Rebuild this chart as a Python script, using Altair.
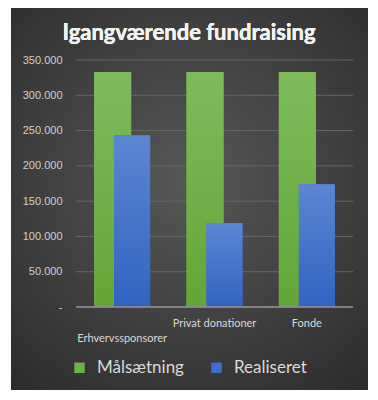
import altair as alt
import pandas as pd

categories = ["Erhvervssponsorer", "Privat donationer", "Fonde"]
goal = [333000, 333000, 333000]
realized = [243500, 119000, 174000]
series = ["Målsætning", "Realiseret"]
y_ticks = [0, 50000, 100000, 150000, 200000, 250000, 300000, 350000]

df_goal = pd.DataFrame({"cat": categories, "value": goal, "series": series[0]})
df_real = pd.DataFrame({"cat": categories, "value": realized, "series": series[1]})
df_ticks = pd.DataFrame({"value": y_ticks[1:]})

W, H = 277, 247
PL, PT = 76, 60

x_enc = alt.X(
    "cat:N", sort=categories, title=None,
    scale=alt.Scale(paddingInner=0, paddingOuter=0),
    axis=alt.Axis(
        labelAngle=0, labelColor="#d9d9d9", labelFontSize=11, labelFont="Lato",
        domain=False, ticks=False, grid=False, labelPadding=10, labelLineHeight=15,
        zindex=1,
        labelExpr="datum.value == 'Erhvervssponsorer' ? ['', datum.value] : datum.value",
    ),
)
y_scale = alt.Scale(domain=[0, 350000], nice=False)
y_enc = alt.Y(
    "value:Q", title=None, scale=y_scale,
    axis=alt.Axis(
        values=y_ticks, labelColor="#d0d0d0", labelFontSize=11, labelFont="Liberation Sans",
        domain=False, ticks=False, grid=False, labelPadding=14, zindex=1,
        labelExpr="datum.value == 0 ? '-' : replace(format(datum.value, ',.0f'), regexp(',', 'g'), '.')",
    ),
)
color_enc = alt.Color(
    "series:N",
    scale=alt.Scale(domain=series, range=["#6db046", "#3f6fcc"]),
    legend=alt.Legend(
        title=None, orient="none", direction="horizontal", legendX=-5, legendY=299,
        symbolType="square", symbolSize=110, symbolStrokeWidth=0,
        labelFontSize=17, labelColor="#d9d9d9", labelFont="Lato", columnPadding=24,
        labelOffset=9, zindex=1,
    ),
)

grad_green = alt.LinearGradient(
    gradient="linear", x1=0, y1=0, x2=0, y2=1,
    stops=[alt.GradientStop(offset=0, color="#7fbb5c"), alt.GradientStop(offset=1, color="#63a636")],
)
grad_blue = alt.LinearGradient(
    gradient="linear", x1=0, y1=0, x2=0, y2=1,
    stops=[alt.GradientStop(offset=0, color="#5d86d2"), alt.GradientStop(offset=1, color="#3163c1")],
)
bg_grad = alt.RadialGradient(
    gradient="radial", x1=0.5, y1=0.45, x2=0.5, y2=0.45, r1=0, r2=0.75,
    stops=[alt.GradientStop(offset=0, color="#575757"), alt.GradientStop(offset=1, color="#2a2a2a")],
)

background = alt.Chart(df_goal).mark_rect(fill=bg_grad).encode(
    x=alt.value(11 - PL), x2=alt.value(368 - PL),
    y=alt.value(8 - PT), y2=alt.value(390 - PT),
)

grid = alt.Chart(df_ticks).mark_rule(color="#676767", strokeWidth=1).encode(
    y=y_enc, x=alt.value(0), x2=alt.value(W)
)

base_line = alt.Chart(df_goal).mark_rule(color="#8a8a8a", strokeWidth=1).encode(
    x=alt.value(0), x2=alt.value(W), y=alt.value(H)
)

green = alt.Chart(df_goal).mark_bar(width=37, xOffset=-9.5).encode(x=x_enc, y=y_enc, color=color_enc)
green_g = alt.Chart(df_goal).mark_bar(width=37, xOffset=-9.5, fill=grad_green).encode(x=x_enc, y=y_enc)
blue = alt.Chart(df_real).mark_bar(width=36, xOffset=10).encode(x=x_enc, y=y_enc, color=color_enc)
blue_g = alt.Chart(df_real).mark_bar(width=36, xOffset=10, fill=grad_blue).encode(x=x_enc, y=y_enc)

title_text = alt.Chart(df_goal).mark_text(
    text="Igangværende fundraising", font="Lato", fontSize=22, fontWeight="bold",
    color="#f2f2f2", align="center", baseline="alphabetic",
).encode(x=alt.value(189 - PL), y=alt.value(40 - PT))

chart = alt.layer(background, grid, green, green_g, blue, blue_g, base_line, title_text).properties(
    width=W, height=H,
    padding={"left": PL, "top": PT, "right": 378 - PL - W, "bottom": 400 - PT - H},
    autosize=alt.AutoSizeParams(type="none"),
    background="white",
).configure_view(stroke=None)

chart.save("out.html", embed_options={"renderer": "svg", "actions": False})
